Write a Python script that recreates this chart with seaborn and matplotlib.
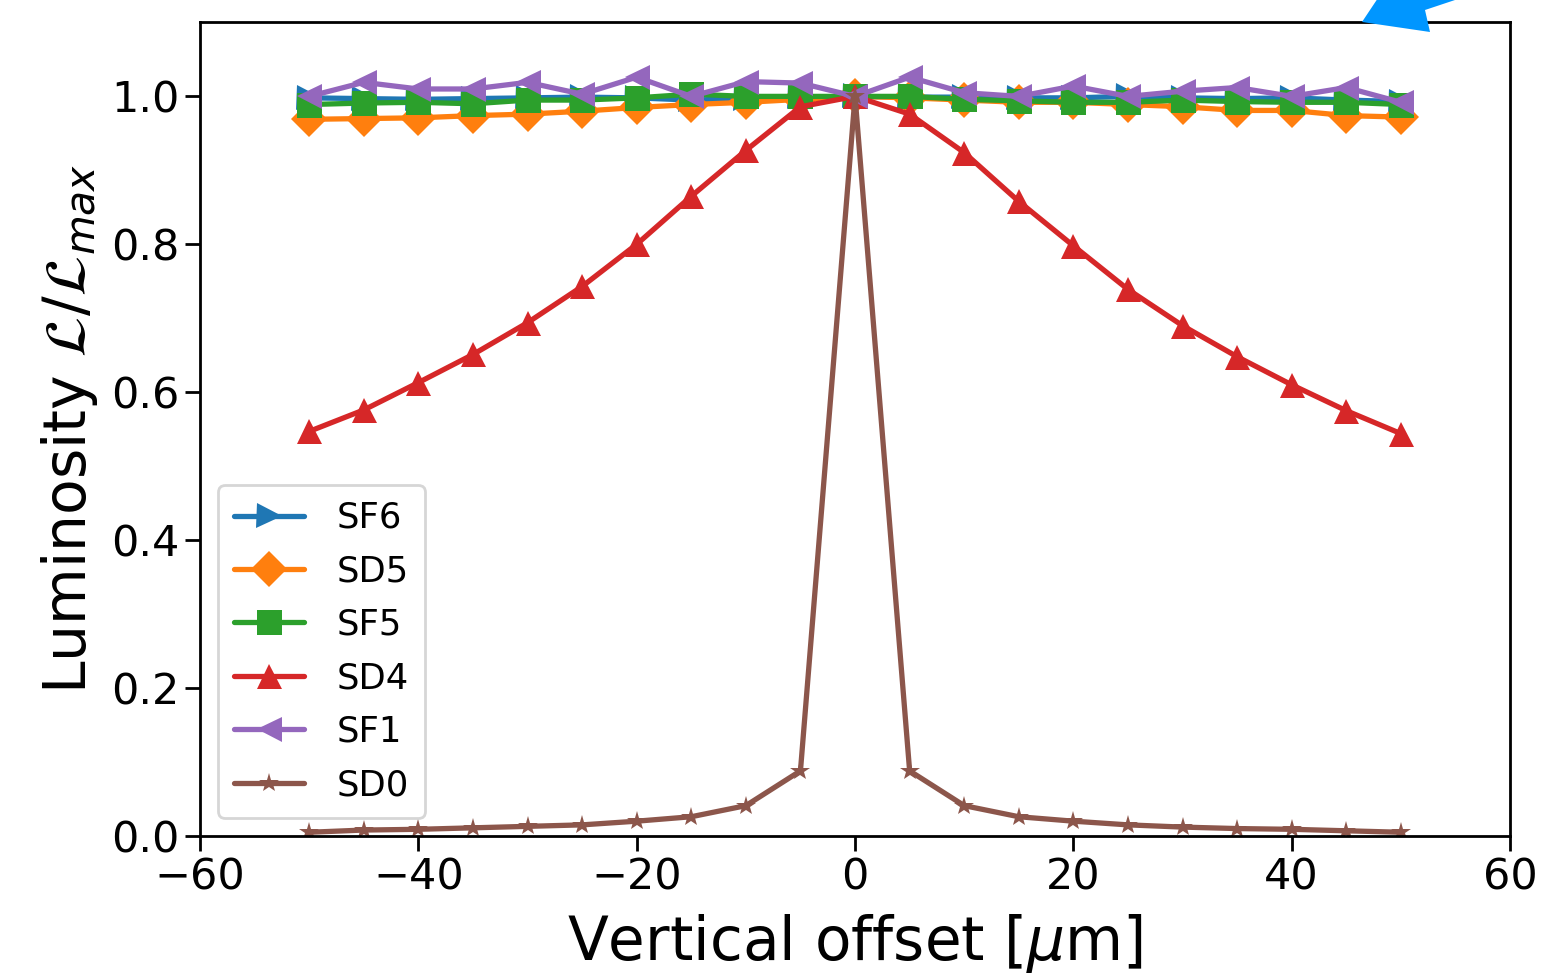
import numpy as np
import pandas as pd
import matplotlib
matplotlib.use("Agg")
import matplotlib.pyplot as plt
import seaborn as sns
from matplotlib.patches import Polygon

# ============================================
# Data
# ============================================

offset = [-50, -45, -40, -35, -30, -25, -20, -15, -10, -5, 0,
          5, 10, 15, 20, 25, 30, 35, 40, 45, 50]

sf6 = [0.998, 0.997, 0.996, 0.997, 0.998, 0.999, 0.998, 0.995, 0.997, 0.999, 1.0,
       0.999, 0.999, 0.998, 0.998, 1.0, 0.998, 0.997, 0.998, 0.995, 0.993]
sd5 = [0.969, 0.970, 0.971, 0.974, 0.976, 0.980, 0.985, 0.989, 0.992, 0.996, 1.0,
       0.998, 0.995, 0.992, 0.992, 0.989, 0.986, 0.981, 0.981, 0.974, 0.972]
sf5 = [0.989, 0.991, 0.992, 0.990, 0.995, 0.995, 0.998, 1.003, 1.0, 1.0, 1.0,
       1.0, 0.996, 0.994, 0.992, 0.992, 0.995, 0.993, 0.992, 0.992, 0.989]
sd4 = [0.547, 0.576, 0.613, 0.651, 0.694, 0.743, 0.800, 0.865, 0.927, 0.986, 1.0,
       0.976, 0.924, 0.858, 0.798, 0.739, 0.690, 0.648, 0.610, 0.575, 0.544]
sf1 = [1.0, 1.019, 1.010, 1.010, 1.019, 1.003, 1.026, 1.0, 1.020, 1.018, 1.0,
       1.026, 1.005, 1.0, 1.014, 1.0, 1.007, 1.012, 1.0, 1.012, 0.992]
sd0 = [0.005, 0.008, 0.009, 0.011, 0.013, 0.015, 0.020, 0.026, 0.041, 0.088, 1.0,
       0.088, 0.041, 0.026, 0.020, 0.015, 0.012, 0.010, 0.009, 0.007, 0.005]

series_names = ["SF6", "SD5", "SF5", "SD4", "SF1", "SD0"]
series_values = [sf6, sd5, sf5, sd4, sf1, sd0]
series_markers = [">", "D", "s", "^", "<", "*"]

df = pd.DataFrame({"offset": offset})
for name, vals in zip(series_names, series_values):
    df[name] = vals

# ============================================
# Plot
# ============================================

sns.set_style("ticks")
plt.rcParams["font.family"] = ["DejaVu Sans"]
plt.rcParams["mathtext.fontset"] = "dejavusans"
for key in ["text.color", "axes.labelcolor", "xtick.color", "ytick.color", "axes.edgecolor"]:
    plt.rcParams[key] = "black"

colors = sns.color_palette("tab10", 6)

fig = plt.figure(figsize=(15.42, 9.75), dpi=100)
ax = fig.add_axes([0.1297, 0.1426, 0.8496, 0.8344])

for name, marker, color in zip(series_names, series_markers, colors):
    ms = 15 if marker == "*" else 18
    sns.lineplot(data=df, x="offset", y=name, ax=ax, label=name,
                 color=color, marker=marker, markersize=ms,
                 markeredgewidth=0, linewidth=3.8)

ax.set_xlim(-60, 60)
ax.set_ylim(0, 1.1)
ax.set_xticks([-60, -40, -20, 0, 20, 40, 60])
ax.set_yticks([0.0, 0.2, 0.4, 0.6, 0.8, 1.0])
ax.tick_params(labelsize=31, length=11, width=2, colors="black")
for sp in ax.spines.values():
    sp.set_linewidth(2)
    sp.set_color("black")
    sp.set_visible(True)

ax.set_xlabel(r"Vertical offset [$\mu$m]", fontsize=43, labelpad=10)
ax.set_ylabel(r"Luminosity $\mathcal{L}/\mathcal{L}_{max}$", fontsize=42, labelpad=8)

leg = ax.legend(loc="lower left", fontsize=25.5, frameon=True, handlelength=2.0,
                borderaxespad=0.5, labelspacing=0.55, handletextpad=0.9,
                borderpad=0.45)
leg.get_frame().set_edgecolor("0.8")
leg.get_frame().set_linewidth(2)

# blue arrow partly cut off at top right
W, H = 1542, 975
arrow_px = [(1380, -5), (1362, 22), (1430, 32), (1425, 10), (1470, -5)]
arrow = Polygon([(x / W, 1 - y / H) for x, y in arrow_px], closed=True,
                transform=fig.transFigure, facecolor="#0096FF",
                edgecolor="none", clip_on=False, zorder=10)
fig.patches.append(arrow)

fig.savefig("out.png", dpi=100)
